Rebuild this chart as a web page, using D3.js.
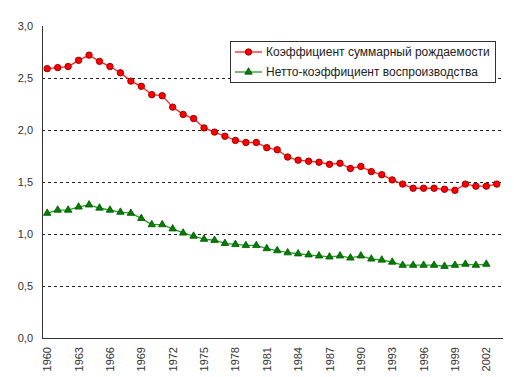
<!DOCTYPE html>
<html>
<head>
<meta charset="utf-8">
<script src="https://cdn.jsdelivr.net/npm/d3@7"></script>
<style>
  body { margin: 0; background: #fff; }
  svg { font-family: "Liberation Sans", Arial, sans-serif; }
</style>
</head>
<body>
<svg width="514" height="377"></svg>
<script>
// years 1960..2003
const YEARS = d3.range(1960, 2004);

// total fertility rate
const TFR = [
  2.59, 2.60, 2.61, 2.67, 2.72, 2.66, 2.61, 2.55, 2.47, 2.42,
  2.34, 2.33, 2.22, 2.15, 2.11, 2.02, 1.98, 1.94, 1.90, 1.88,
  1.88, 1.83, 1.81, 1.74, 1.71, 1.70, 1.69, 1.67, 1.68, 1.63,
  1.65, 1.60, 1.57, 1.52, 1.48, 1.44, 1.44, 1.44, 1.43, 1.42,
  1.48, 1.46, 1.46, 1.48
];

// net reproduction rate (no value for 2003)
const NRR = [
  1.20, 1.23, 1.23, 1.26, 1.28, 1.25, 1.23, 1.21, 1.20, 1.15,
  1.09, 1.09, 1.05, 1.01, 0.98, 0.95, 0.94, 0.91, 0.90, 0.89,
  0.89, 0.86, 0.84, 0.82, 0.81, 0.80, 0.79, 0.78, 0.79, 0.77,
  0.79, 0.76, 0.75, 0.73, 0.70, 0.70, 0.70, 0.70, 0.69, 0.70,
  0.71, 0.70, 0.71, null
];

const Y_TICKS = [0, 0.5, 1, 1.5, 2, 2.5, 3];
const LEGEND = ['Коэффициент суммарный рождаемости', 'Нетто-коэффициент воспроизводства'];

const svg = d3.select('svg');
const PLOT = { left: 42, right: 502, top: 26, bottom: 338 };

const x = d3.scaleBand().domain(YEARS).range([PLOT.left, PLOT.right]);
const y = d3.scaleLinear().domain([0, 3]).range([PLOT.bottom, PLOT.top]);
const cx = d => x(d) + x.bandwidth() / 2;
const fmt = v => d3.format('.1f')(v).replace('.', ',');

// GRID
svg.append('g').selectAll('line')
  .data(Y_TICKS.filter(v => v > 0 && v < 3))
  .enter().append('line')
  .attr('x1', PLOT.left).attr('x2', PLOT.right)
  .attr('y1', d => y(d) + 0.5).attr('y2', d => y(d) + 0.5)
  .attr('stroke', '#222')
  .attr('stroke-dasharray', '3,3');

// Y LABELS
svg.append('g').selectAll('text')
  .data(Y_TICKS)
  .enter().append('text')
  .attr('x', 33).attr('y', d => y(d) + 4)
  .attr('text-anchor', 'end')
  .attr('font-size', 11)
  .attr('fill', '#333')
  .text(fmt);

// X LABELS, every 3rd year
svg.append('g').selectAll('text')
  .data(YEARS.filter(d => (d - 1960) % 3 === 0))
  .enter().append('text')
  .attr('transform', d => `translate(${cx(d) + 4}, 347) rotate(-90)`)
  .attr('text-anchor', 'end')
  .attr('font-size', 11)
  .attr('fill', '#333')
  .text(d => d);

// AXES
svg.append('line')
  .attr('x1', PLOT.left + 0.5).attr('x2', PLOT.left + 0.5)
  .attr('y1', PLOT.top).attr('y2', PLOT.bottom)
  .attr('stroke', '#333');
svg.append('line')
  .attr('x1', PLOT.left).attr('x2', PLOT.right + 1)
  .attr('y1', PLOT.bottom + 0.5).attr('y2', PLOT.bottom + 0.5)
  .attr('stroke', '#333');

const tri = d3.symbol().type(d3.symbolTriangle).size(24);

function drawSeries(vals, color, marker) {
  const pts = YEARS.map((yr, i) => ({ yr, v: vals[i] })).filter(d => d.v != null);
  svg.append('path')
    .datum(pts)
    .attr('fill', 'none')
    .attr('stroke', color.line)
    .attr('stroke-width', 1.3)
    .attr('d', d3.line().x(d => cx(d.yr)).y(d => y(d.v)));
  const g = svg.append('g');
  if (marker === 'circle') {
    g.selectAll('circle').data(pts).enter().append('circle')
      .attr('cx', d => cx(d.yr)).attr('cy', d => y(d.v)).attr('r', 3.2)
      .attr('fill', color.fill).attr('stroke', color.stroke).attr('stroke-width', 1);
  } else {
    g.selectAll('path').data(pts).enter().append('path')
      .attr('d', tri)
      .attr('transform', d => `translate(${cx(d.yr)}, ${y(d.v)})`)
      .attr('fill', color.fill).attr('stroke', color.stroke).attr('stroke-width', 0.8);
  }
}

const RED = { line: '#ff2020', fill: '#ff0000', stroke: '#a00000' };
const GREEN = { line: '#2a9a2a', fill: '#008000', stroke: '#005500' };
drawSeries(TFR, RED, 'circle');
drawSeries(NRR, GREEN, 'triangle');

// LEGEND
const lg = svg.append('g');
lg.append('rect')
  .attr('x', 230.5).attr('y', 41.5).attr('width', 265).attr('height', 41)
  .attr('fill', '#fff').attr('stroke', '#333');
[[RED, 'circle'], [GREEN, 'triangle']].forEach(([c, m], i) => {
  const ly = 52 + i * 20;
  lg.append('line').attr('x1', 235).attr('x2', 262).attr('y1', ly).attr('y2', ly)
    .attr('stroke', c.line).attr('stroke-width', 1.3);
  if (m === 'circle') {
    lg.append('circle').attr('cx', 248.5).attr('cy', ly).attr('r', 3.2)
      .attr('fill', c.fill).attr('stroke', c.stroke);
  } else {
    lg.append('path').attr('d', tri).attr('transform', `translate(248.5, ${ly})`)
      .attr('fill', c.fill).attr('stroke', c.stroke).attr('stroke-width', 0.8);
  }
  lg.append('text').attr('x', 266).attr('y', ly + 4)
    .attr('font-size', 12).attr('fill', '#222')
    .text(LEGEND[i]);
});
</script>
</body>
</html>
